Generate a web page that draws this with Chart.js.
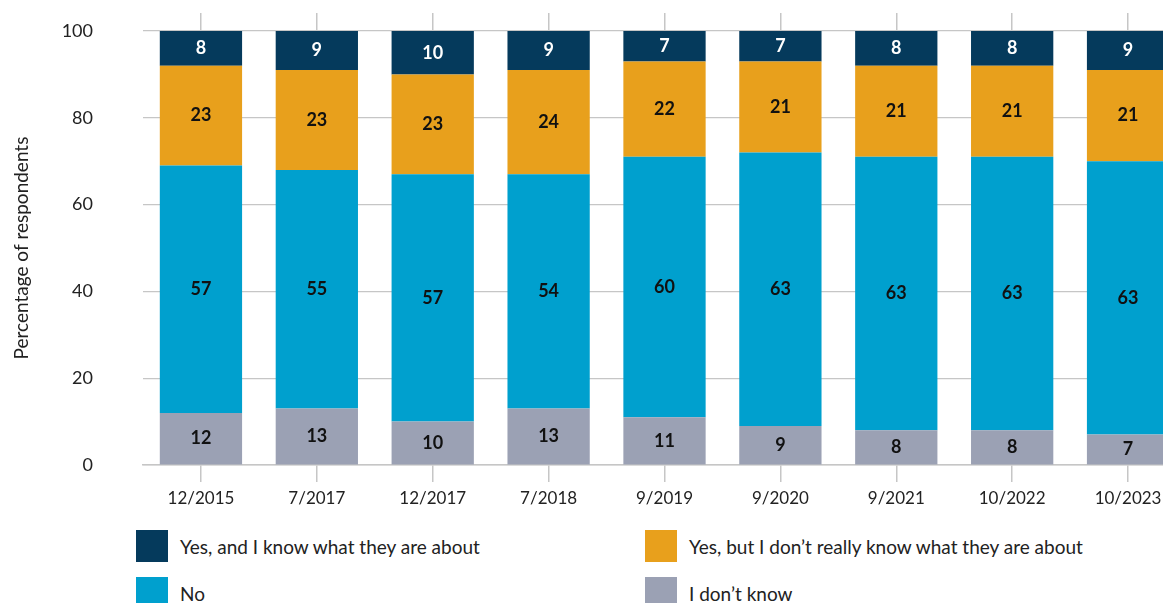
<!DOCTYPE html>
<html>
<head>
<meta charset="utf-8">
<script src="https://cdn.jsdelivr.net/npm/chart.js@4/dist/chart.umd.min.js"></script>
<style>
  html, body { margin: 0; padding: 0; background: #fff; overflow: hidden; }
  #wrap { position: absolute; left: 0; top: 0; width: 1186px; height: 509px; }
  #legend {
    position: absolute; left: 136px; top: 530px;
    display: grid; grid-template-columns: 509px 509px; grid-auto-rows: 47px;
    font-family: Lato, sans-serif; font-size: 19px; color: #222;
  }
  #legend .item { display: flex; align-items: center; height: 32px; }
  #legend .box { width: 32px; height: 32px; margin-right: 12px; flex: none; }
</style>
</head>
<body>
<div id="wrap"><canvas id="chart"></canvas></div>
<div id="legend"></div>
<script>
var categories = ['12/2015', '7/2017', '12/2017', '7/2018', '9/2019', '9/2020', '9/2021', '10/2022', '10/2023'];
var dontKnow   = [12, 13, 10, 13, 11, 9, 8, 8, 7];
var no         = [57, 55, 57, 54, 60, 63, 63, 63, 63];
var yesButNot  = [23, 23, 23, 24, 22, 21, 21, 21, 21];
var yesKnow    = [8, 9, 10, 9, 7, 7, 8, 8, 9];
var yTicks     = [0, 20, 40, 60, 80, 100];

var gridColor = '#c6c6c6';

// value labels inside each segment
var segmentLabels = {
  id: 'segmentLabels',
  afterDatasetsDraw: function(chart){
    var ctx = chart.ctx;
    ctx.save();
    ctx.font = 'bold 18px Lato, sans-serif';
    ctx.textAlign = 'center';
    ctx.textBaseline = 'middle';
    chart.data.datasets.forEach(function(ds, i){
      var meta = chart.getDatasetMeta(i);
      ctx.fillStyle = ds.labelColor;
      meta.data.forEach(function(bar, j){
        var p = bar.getCenterPoint();
        ctx.fillText(ds.data[j], p.x, p.y);
      });
    });
    ctx.restore();
  }
};

var ctx = document.getElementById('chart').getContext('2d');
var chart = new Chart(ctx, {
  type: 'bar',
  data: {
    labels: categories,
    datasets: [
      { label: 'I don\u2019t know', data: dontKnow, backgroundColor: '#9ba1b4', labelColor: '#111' },
      { label: 'No', data: no, backgroundColor: '#00a0ce', labelColor: '#111' },
      { label: 'Yes, but I don\u2019t really know what they are about', data: yesButNot, backgroundColor: '#e8a01c', labelColor: '#111' },
      { label: 'Yes, and I know what they are about', data: yesKnow, backgroundColor: '#053a5c', labelColor: '#fff' }
    ]
  },
  options: {
    responsive: true,
    maintainAspectRatio: false,
    animation: false,
    layout: { padding: { top: 13, right: 0, bottom: 0, left: 0 } },
    datasets: { bar: { categoryPercentage: 1, barPercentage: 0.71, borderWidth: 0 } },
    plugins: { legend: { display: false }, tooltip: { enabled: false } },
    scales: {
      x: {
        stacked: true,
        offset: true,
        grid: { offset: false, drawOnChartArea: false, color: gridColor, tickLength: 17, lineWidth: 1.5 },
        border: { display: true, color: gridColor, width: 1.5 },
        ticks: { color: '#222', padding: 6, font: { family: 'Lato, sans-serif', size: 17 } },
        afterFit: function(s){ s.height = 44; }
      },
      x2: {
        position: 'top',
        offset: true,
        grid: { offset: false, drawOnChartArea: false, color: gridColor, tickLength: 18, lineWidth: 1.5 },
        border: { display: false },
        ticks: { display: false }
      },
      y: {
        stacked: true,
        min: 0,
        max: 100,
        afterBuildTicks: function(s){ s.ticks = yTicks.map(function(v){ return { value: v }; }); },
        grid: { color: gridColor, drawTicks: false, lineWidth: 1.2 },
        border: { display: false },
        ticks: { color: '#222', padding: 50, font: { family: 'Lato, sans-serif', size: 18 } },
        title: {
          display: true,
          text: 'Percentage of respondents',
          color: '#222',
          padding: { top: 10, bottom: 0 },
          font: { family: 'Lato, sans-serif', size: 19 }
        },
        afterFit: function(s){
          s.width = 143;
          // big label padding should not push the plot area down
          s.paddingTop = 0;
          s.paddingBottom = 0;
        }
      }
    }
  },
  plugins: [segmentLabels]
});

// legend: two columns, top-down reading order as in the original
var order = [3, 2, 1, 0];
var legendEl = document.getElementById('legend');
order.forEach(function(i){
  var ds = chart.data.datasets[i];
  var item = document.createElement('div');
  item.className = 'item';
  item.innerHTML = '<span class="box" style="background:' + ds.backgroundColor + '"></span><span>' + ds.label + '</span>';
  legendEl.appendChild(item);
});
</script>
</body>
</html>
